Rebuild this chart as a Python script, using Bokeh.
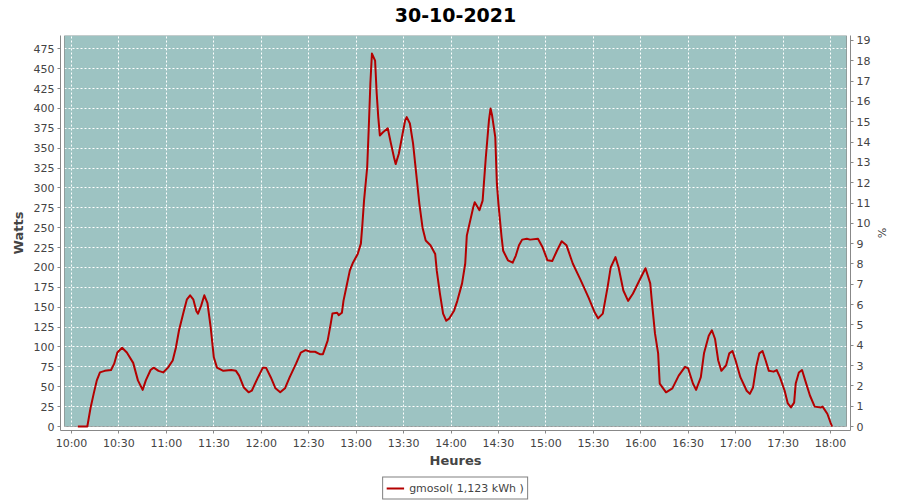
import pandas as pd
from bokeh.plotting import figure
from bokeh.layouts import column
from bokeh.models import (Range1d, LinearAxis, FixedTicker, DatetimeTickFormatter,
                          BoxAnnotation, Legend, LegendItem, ColumnDataSource, Label)
from bokeh.embed import file_html
from bokeh.resources import INLINE

DAY = "2021-10-30"
TITLE = "30-10-2021"
SERIES_LABEL = "gmosol( 1,123 kWh )"

times = ["10:04", "10:10", "10:12", "10:14", "10:16", "10:18", "10:21", "10:25", "10:27", "10:29",
         "10:32", "10:35", "10:39", "10:42", "10:45", "10:47", "10:50", "10:52", "10:55", "10:58",
         "11:01", "11:04", "11:06", "11:08", "11:11", "11:13", "11:15", "11:17", "11:19", "11:20",
         "11:22", "11:24", "11:26", "11:28", "11:30", "11:32", "11:36", "11:41", "11:44", "11:46",
         "11:49", "11:52", "11:54", "11:58", "12:01", "12:03", "12:06", "12:09", "12:12", "12:15",
         "12:18", "12:22", "12:25", "12:28", "12:31", "12:34", "12:37", "12:39", "12:42", "12:44",
         "12:45", "12:48", "12:49", "12:51", "12:52", "12:54", "12:56", "12:58", "13:01", "13:03",
         "13:04", "13:05", "13:07", "13:08", "13:09", "13:10", "13:12", "13:13", "13:14", "13:15",
         "13:17", "13:20", "13:22", "13:24", "13:25", "13:27", "13:29", "13:31", "13:32", "13:34",
         "13:36", "13:38", "13:40", "13:42", "13:44", "13:47", "13:50", "13:51", "13:53", "13:55",
         "13:57", "13:59", "14:02", "14:04", "14:07", "14:09", "14:10", "14:14", "14:15", "14:18",
         "14:20", "14:22", "14:24", "14:25", "14:26", "14:28", "14:29", "14:30", "14:32", "14:33",
         "14:36", "14:39", "14:41", "14:43", "14:45", "14:48", "14:50", "14:55", "14:58", "15:01",
         "15:04", "15:07", "15:10", "15:13", "15:17", "15:22", "15:27", "15:31", "15:33", "15:36",
         "15:39", "15:41", "15:44", "15:46", "15:49", "15:52", "15:55", "16:00", "16:03", "16:06",
         "16:07", "16:09", "16:11", "16:12", "16:16", "16:20", "16:24", "16:28", "16:30", "16:33",
         "16:35", "16:38", "16:40", "16:43", "16:45", "16:47", "16:49", "16:51", "16:54", "16:56",
         "16:58", "17:00", "17:03", "17:07", "17:09", "17:11", "17:13", "17:15", "17:17", "17:19",
         "17:21", "17:24", "17:26", "17:28", "17:31", "17:33", "17:35", "17:37", "17:38", "17:40",
         "17:42", "17:44", "17:47", "17:50", "17:54", "17:55", "17:58", "18:00", "18:01"]

watts = [0, 0, 23, 41, 58, 68, 70, 71, 79, 93,
         99, 93, 80, 58, 46, 58, 71, 74, 70, 68,
         74, 83, 99, 121, 145, 160, 165, 160, 145, 142,
         152, 165, 155, 125, 87, 74, 70, 71, 70, 64,
         49, 43, 45, 62, 74, 74, 62, 48, 43, 48,
         62, 79, 93, 96, 94, 94, 91, 91, 108, 130,
         142, 143, 140, 143, 158, 177, 196, 206, 217, 230,
         255, 284, 326, 376, 431, 469, 460, 419, 389, 366,
         370, 375, 356, 338, 330, 343, 364, 385, 389, 381,
         356, 318, 280, 250, 234, 228, 217, 196, 167, 142,
         133, 136, 146, 158, 180, 205, 240, 275, 282, 272,
         284, 338, 385, 400, 391, 364, 306, 280, 238, 221,
         209, 206, 215, 228, 235, 236, 235, 236, 225, 209,
         208, 221, 233, 228, 205, 184, 162, 143, 136, 142,
         175, 200, 213, 200, 171, 158, 167, 187, 199, 180,
         158, 117, 92, 54, 43, 48, 64, 75, 73, 54,
         46, 62, 92, 114, 121, 110, 83, 70, 77, 92,
         95, 83, 62, 45, 41, 49, 75, 92, 95, 83,
         70, 69, 71, 62, 45, 29, 24, 30, 54, 68,
         71, 58, 39, 25, 24, 25, 16, 5, 0]

x_tick_labels = ["10:00", "10:30", "11:00", "11:30", "12:00", "12:30", "13:00", "13:30", "14:00",
                 "14:30", "15:00", "15:30", "16:00", "16:30", "17:00", "17:30", "18:00"]
watt_ticks = [0, 25, 50, 75, 100, 125, 150, 175, 200, 225, 250, 275, 300, 325, 350, 375, 400, 425, 450, 475]
pct_ticks = [0, 1, 2, 3, 4, 5, 6, 7, 8, 9, 10, 11, 12, 13, 14, 15, 16, 17, 18, 19]

BG = "#9DC3C2"
RED = "#B40000"
GREY_TXT = "#444444"
AXIS_GREY = "#888888"
FONT = "DejaVu Sans"


def ms(t):
    return pd.Timestamp(f"{DAY} {t}").value / 1e6


xs = [ms(t) for t in times]
src = ColumnDataSource(dict(x=xs, y=watts))

MIN = 60_000.0
x_start = ms("10:00") - 6.96 * MIN
x_end = ms("18:00") + 12.65 * MIN
y_start, y_end = -5.03, 491.7
ratio = 25.55

FRAME_W, FRAME_H = 790, 395
GAP = 4
dx = (x_end - x_start) / FRAME_W * GAP
dy = (y_end - y_start) / FRAME_H * GAP

# ---- title strip ----
title_fig = figure(width=900, height=35, toolbar_location=None, output_backend="svg",
                   x_range=Range1d(0, 1), y_range=Range1d(0, 1),
                   x_axis_location=None, y_axis_location=None, min_border=0)
title_fig.grid.visible = False
title_fig.outline_line_color = None
title_fig.background_fill_color = "white"
title_fig.border_fill_color = "white"
title_fig.add_layout(Label(x=0.5, y=0.6, text=TITLE, text_align="center", text_baseline="middle",
                           text_font=FONT, text_font_size="19px", text_font_style="bold",
                           text_color="black"))

# ---- main chart ----
p = figure(frame_width=FRAME_W, frame_height=FRAME_H, x_axis_type="datetime", output_backend="svg",
           toolbar_location=None, x_range=Range1d(x_start, x_end),
           y_range=Range1d(y_start, y_end),
           min_border_left=60, min_border_right=50, min_border_top=0, min_border_bottom=46)
p.extra_y_ranges = {"pct": Range1d(y_start / ratio, y_end / ratio)}

p.background_fill_color = "white"
p.border_fill_color = "white"
p.outline_line_color = None

# plot panel with black border, inset from axis lines
panel = BoxAnnotation(left=x_start + dx, right=x_end - dx, bottom=y_start + dy, top=y_end,
                      fill_color=BG, fill_alpha=1, line_color=None, level="image")
p.add_layout(panel)
border = BoxAnnotation(left=x_start + dx, right=x_end - dx, bottom=y_start + dy, top=y_end,
                       fill_alpha=0, line_color="black", line_width=1, level="underlay")
p.add_layout(border)

line = p.line("x", "y", source=src, line_color=RED, line_width=2, line_join="round")

p.xaxis.ticker = FixedTicker(ticks=[ms(t) for t in x_tick_labels])
p.xaxis.formatter = DatetimeTickFormatter(minutes="%H:%M", hours="%H:%M", hourmin="%H:%M")
p.xaxis.axis_label = "Heures"
p.yaxis.ticker = FixedTicker(ticks=watt_ticks)
p.yaxis.axis_label = "Watts"

right = LinearAxis(y_range_name="pct", ticker=FixedTicker(ticks=pct_ticks), axis_label="%")
p.add_layout(right, "right")

for ax in [p.xaxis[0], p.yaxis[0], right]:
    ax.axis_line_color = AXIS_GREY
    ax.major_tick_line_color = AXIS_GREY
    ax.minor_tick_line_color = None
    ax.major_tick_in = 0
    ax.major_tick_out = 3
    ax.major_label_text_font = FONT
    ax.major_label_text_font_size = "11px"
    ax.major_label_text_color = GREY_TXT
    ax.major_label_standoff = 3
    ax.axis_label_text_font = FONT
    ax.axis_label_text_font_size = "13px"
    ax.axis_label_text_font_style = "bold"
    ax.axis_label_text_color = GREY_TXT
    ax.axis_label_standoff = 5

p.xaxis.axis_label_standoff = 0
right.axis_label_text_font_style = "normal"
right.axis_label_text_font_size = "11px"
right.axis_label_standoff = 2

for g in [p.xgrid[0], p.ygrid[0]]:
    g.grid_line_color = "white"
    g.grid_line_dash = "2 2"
    g.grid_line_width = 1

# ---- legend strip ----
leg_fig = figure(width=900, height=24, toolbar_location=None, output_backend="svg",
                 x_range=Range1d(0, 1), y_range=Range1d(0, 1),
                 x_axis_location=None, y_axis_location=None, min_border=0)
leg_fig.grid.visible = False
leg_fig.outline_line_color = None
leg_fig.background_fill_color = "white"
leg_fig.border_fill_color = "white"
# legend key: same style as the series line, kept outside the strip's visible range
key = leg_fig.line(x=[5, 6], y=[5, 5], line_color=RED, line_width=2)
legend = Legend(items=[LegendItem(label=SERIES_LABEL, renderers=[key])],
                orientation="horizontal", location="center",
                border_line_color="black", border_line_width=1,
                background_fill_color="white", background_fill_alpha=1,
                label_text_font=FONT, label_text_font_size="11px",
                label_text_color=GREY_TXT, glyph_width=18, glyph_height=15,
                label_standoff=5, padding=3, margin=0, spacing=0)
leg_fig.add_layout(legend)

layout = column(title_fig, p, leg_fig, spacing=0)

open("out.html", "w").write(file_html(layout, INLINE))
